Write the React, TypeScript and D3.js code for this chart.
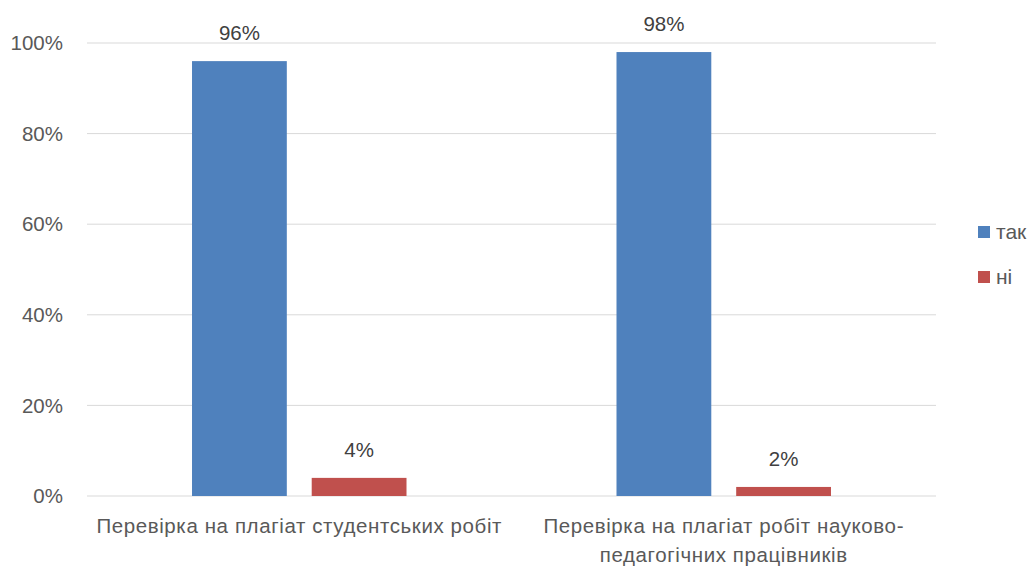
import { useEffect, useRef } from 'react'
import * as d3 from 'd3'

// дані з діаграми
const categories = [
  ['Перевірка на плагіат студентських робіт'],
  ['Перевірка на плагіат робіт науково-', 'педагогічних працівників'],
]
const seriesNames = ['так', 'ні']
const seriesColors = ['#4F81BD', '#C0504D']
const tak = [0.96, 0.98]
const ni = [0.04, 0.02]
const yTicks = [0, 0.2, 0.4, 0.6, 0.8, 1]

const W = 1027, H = 567
const M = { top: 43, right: 91, bottom: 71, left: 87 }
const IW = W - M.left - M.right
const IH = H - M.top - M.bottom
const FONT = '"Liberation Sans", Arial, sans-serif'
const FS = 20.5
const TXT = '#595959'

export default function App() {
  const svgRef = useRef<SVGSVGElement>(null)

  useEffect(() => {
    const svg = d3.select(svgRef.current)
    svg.selectAll('*').remove()
    svg.attr('viewBox', `0 0 ${W} ${H}`)

    const g = svg.append('g').attr('transform', `translate(${M.left},${M.top})`)

    const x0 = d3.scaleBand<number>().domain(d3.range(categories.length))
      .range([0, IW]).paddingInner(0.4947).paddingOuter(0.2474)
    const x1 = d3.scaleBand<number>().domain(d3.range(seriesNames.length))
      .range([0, x0.bandwidth()]).paddingInner(0.208)
    const y = d3.scaleLinear().domain([0, 1]).range([IH, 0])

    // сітка
    g.selectAll('line.grid').data(yTicks).join('line')
      .attr('x1', 0).attr('x2', IW)
      .attr('y1', (d) => y(d)).attr('y2', (d) => y(d))
      .attr('stroke', '#D9D9D9').attr('stroke-width', 1)

    // підписи осі Y
    g.selectAll('text.ytick').data(yTicks).join('text')
      .attr('x', -24).attr('y', (d) => y(d)).attr('dy', '0.35em')
      .attr('text-anchor', 'end').attr('font-family', FONT).attr('font-size', FS)
      .attr('fill', TXT).text((d) => d3.format('.0%')(d))

    const series = [tak, ni]
    series.forEach((vals, si) => {
      const grp = g.append('g')
      grp.selectAll('rect').data(vals).join('rect')
        .attr('x', (_, i) => x0(i)! + x1(si)!)
        .attr('y', (d) => y(d))
        .attr('width', x1.bandwidth())
        .attr('height', (d) => IH - y(d))
        .attr('fill', seriesColors[si])
      grp.selectAll('text').data(vals).join('text')
        .attr('x', (_, i) => x0(i)! + x1(si)! + x1.bandwidth() / 2)
        .attr('y', (d) => y(d) - 21)
        .attr('text-anchor', 'middle').attr('font-family', FONT).attr('font-size', FS)
        .attr('fill', '#404040').text((d) => d3.format('.0%')(d))
    })

    // підписи категорій
    categories.forEach((lines, i) => {
      const t = g.append('text')
        .attr('x', x0(i)! + x0.bandwidth() / 2)
        .attr('y', IH + 37)
        .attr('text-anchor', 'middle').attr('font-family', FONT).attr('font-size', FS)
        .attr('letter-spacing', 0.6)
        .attr('fill', TXT)
      lines.forEach((l, k) => {
        t.append('tspan').attr('x', x0(i)! + x0.bandwidth() / 2)
          .attr('dy', k === 0 ? 0 : 29).text(l)
      })
    })

    // легенда
    const lg = svg.append('g').attr('transform', 'translate(978,226)')
    seriesNames.forEach((name, i) => {
      lg.append('rect').attr('x', 0).attr('y', i * 45).attr('width', 12).attr('height', 12)
        .attr('fill', seriesColors[i])
      lg.append('text').attr('x', 18).attr('y', i * 45 + 6).attr('dy', '0.35em')
        .attr('font-family', FONT).attr('font-size', 21).attr('fill', TXT).text(name)
    })
  }, [])

  return (
    <svg ref={svgRef} width={W} height={H}
      style={{ position: 'absolute', left: 0, top: 0, background: '#fff' }} />
  )
}
